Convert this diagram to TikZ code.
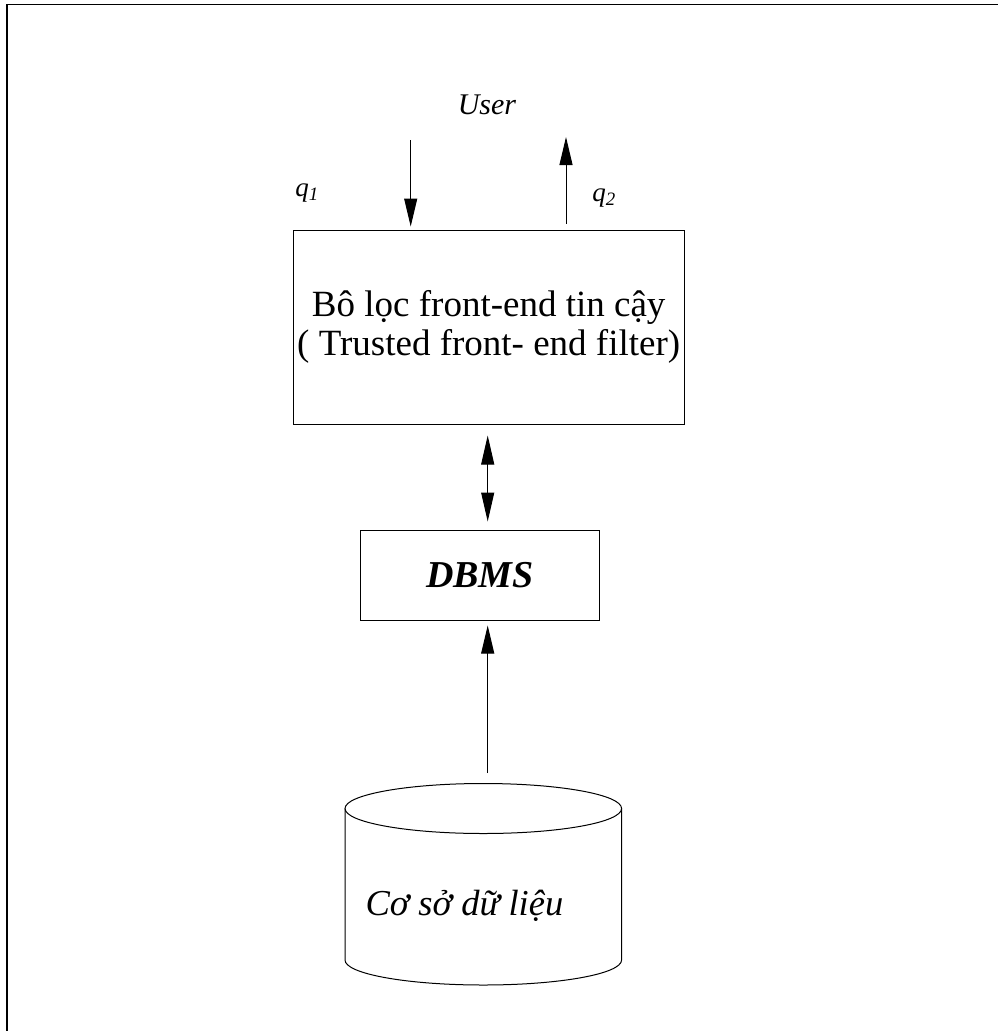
\documentclass[tikz,border=0pt]{standalone}
\usepackage{fontspec}
\setmainfont{Liberation Serif}
\usetikzlibrary{arrows.meta}
\begin{document}
\begin{tikzpicture}[x=1pt,y=-1pt,
  line width=1pt,
  arr/.style={-{Triangle[length=28pt,width=13pt]}},
  darr/.style={{Triangle[length=29pt,width=13pt]}-{Triangle[length=29pt,width=13pt]}},
  blockbox/.style={draw, inner sep=0pt, align=center}]
\useasboundingbox (0,0) rectangle (998,1031);

% page frame (top and left edges)
\draw[line width=1.6pt] (998,4.5) -- (7,4.5) -- (7,1031);

% trusted front-end filter
\node[blockbox, minimum width=391pt, minimum height=194pt,
      font=\fontsize{37}{40}\selectfont] (filter) at (488.7,327)
  {Bô lọc front-end tin cậy\\[-1pt]( Trusted front- end filter)};

% DBMS
\node[blockbox, minimum width=239pt, minimum height=90pt,
      font=\fontsize{38}{40}\selectfont\bfseries\itshape] (dbms) at (480,575) {DBMS};

% user side
\node[font=\fontsize{30}{34}\selectfont\itshape] (user) at (487,105) {User};
\node[font=\fontsize{27}{30}\selectfont\itshape] (q1) at (307,193) {q\textsubscript{1}};
\node[font=\fontsize{27}{30}\selectfont\itshape] (q2) at (604,198) {q\textsubscript{2}};
\coordinate (in) at (410.7,140);
\coordinate (out) at (566,137);

\draw[arr, shorten >=3pt] (in) -- (in |- filter.north);
\draw[arr, shorten <=6pt] (out |- filter.north) -- (out);

% filter <-> DBMS
\coordinate (link) at (487.7,480);
\draw[darr, shorten <=11pt, shorten >=8pt] (link |- filter.south) -- (link |- dbms.north);

% database cylinder
\draw (345,808.5) -- (345,960) arc[start angle=180, end angle=360, x radius=138.3pt, y radius=25pt]
      -- (621.6,808.5);
\draw (483.3,808.5) ellipse[x radius=138.3pt, y radius=25pt];
\node[font=\fontsize{36.5}{40}\selectfont\itshape, anchor=base west, inner sep=0pt] (db) at (365,915) {Cơ sở dữ liệu};
\coordinate (dbtop) at (487.7,773);

\draw[arr, shorten >=5pt] (dbtop) -- (dbtop |- dbms.south);
\end{tikzpicture}
\end{document}
